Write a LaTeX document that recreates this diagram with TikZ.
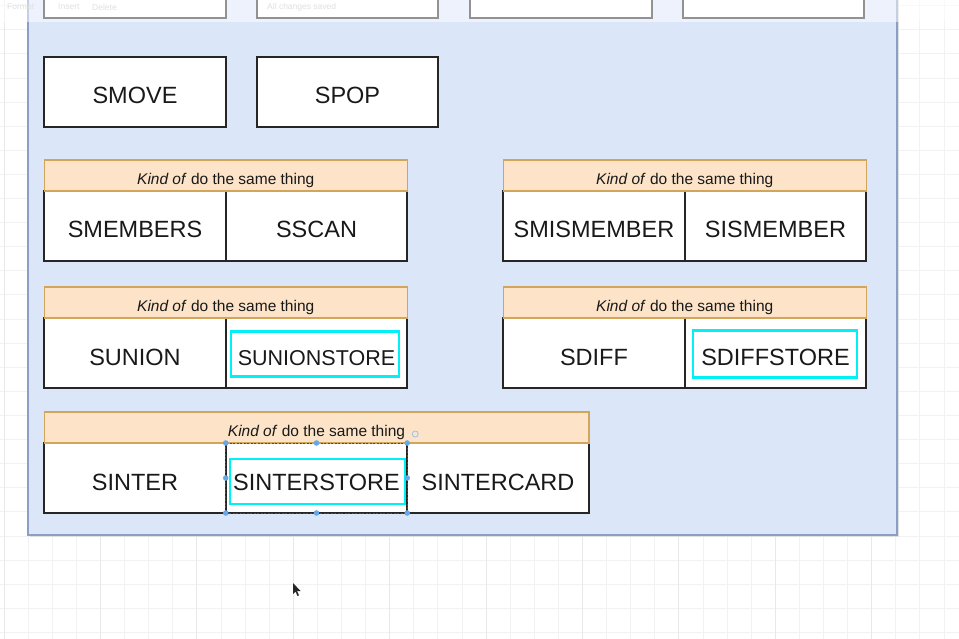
\documentclass[tikz,border=0pt]{standalone}
\usepackage{fontspec}
\setmainfont{Liberation Sans}
\usetikzlibrary{positioning}
\definecolor{panelfill}{HTML}{DBE6F9}
\definecolor{panelline}{HTML}{8A9FC6}
\definecolor{hdrfill}{HTML}{FDE4C8}
\definecolor{hdrline}{HTML}{D3A55B}
\definecolor{editline}{HTML}{00F0F5}
\definecolor{handleblue}{HTML}{64A8E8}
\tikzstyle{gridline}=[
	draw=black!5,
	line width=0.8pt
]
\tikzstyle{gridmajor}=[
	draw=black!9,
	line width=0.8pt
]
\tikzstyle{panel}=[
	draw=panelline,
	fill=panelfill,
	line width=2pt
]
\tikzstyle{cmd}=[
	draw=black!85,
	fill=white,
	line width=1.8pt,
	minimum width=181.5pt,
	minimum height=70pt,
	inner sep=0pt,
	outer sep=0pt,
	text=black!90,
	font=\fontsize{23.5}{24}\selectfont,
	text height=24pt,
	text depth=0pt
]
\tikzstyle{hdr}=[
	draw=hdrline,
	fill=hdrfill,
	line width=1.5pt,
	minimum height=31pt,
	inner sep=0pt,
	outer sep=0pt,
	anchor=south west,
	text=black!90,
	font=\fontsize{15.5}{16}\selectfont,
	text height=17.7pt,
	text depth=0pt
]
\tikzstyle{editbox}=[
	draw=editline,
	line width=2.4pt,
	inner sep=0pt,
	minimum height=45pt
]
\tikzstyle{selbox}=[
	draw=black!70,
	line width=0.9pt,
	dash pattern=on 2pt off 1.5pt
]
\tikzstyle{handle}=[
	fill=handleblue
]
\tikzstyle{tbtext}=[
	text=black!12,
	font=\fontsize{8.5}{9}\selectfont,
	inner sep=0pt
]
\newcommand{\kindof}{\textit{Kind of} do the same thing}

\begin{document}
\begin{tikzpicture}[x=1pt, y=-1pt]
\clip (0,0) rectangle (959,639);
\fill[white] (0,0) rectangle (959,639);

% canvas grid
\foreach \k in {0,...,39} {
    \draw[gridline] ({4+24.1*\k},0) -- ({4+24.1*\k},639);
}
\foreach \k in {0,...,26} {
    \draw[gridline] (0,{5.7+24.1*\k}) -- (959,{5.7+24.1*\k});
}
\foreach \k in {0,4,...,36} {
    \draw[gridmajor] ({4+24.1*\k},0) -- ({4+24.1*\k},639);
}

% container
\fill[black!12] (30,-10) rectangle (899,537);
\draw[panel] (28,-10) rectangle (897,535);

% row cut off at the top
\node[cmd] (top1) at (135,-17) {};
\node[cmd, right=31pt of top1] (top2) {};
\node[cmd, right=32pt of top2] (top3) {};
\node[cmd, right=31pt of top3] (top4) {};

% faded toolbar
\fill[white, opacity=0.5] (0,0) rectangle (959,22);
\node[tbtext, anchor=west] (tbformat) at (7,7) {Format};
\node[tbtext, anchor=west] (tbinsert) at (58,7) {Insert};
\node[tbtext, anchor=west] (tbdelete) at (92,7) {Delete};
\node[tbtext, anchor=west] (tbsaved) at (267,7) {All changes saved};

\node[cmd] (smove) at (135,92) {SMOVE};
\node[cmd, right=31pt of smove] (spop) {SPOP};

% groups
\node[cmd, below=64pt of smove] (smembers) {SMEMBERS};
\node[cmd, right=0pt of smembers] (sscan) {SSCAN};
\node[hdr, minimum width=363pt] (hdra) at (smembers.north west) {\kindof};

\node[cmd, right=96pt of sscan] (smismember) {SMISMEMBER};
\node[cmd, right=0pt of smismember] (sismember) {SISMEMBER};
\node[hdr, minimum width=363pt] (hdrb) at (smismember.north west) {\kindof};

\node[cmd, below=57pt of smembers] (sunion) {SUNION};
\node[cmd, right=0pt of sunion, font=\fontsize{21.5}{22}\selectfont] (sunionstore) {SUNIONSTORE};
\node[hdr, minimum width=363pt] (hdrc) at (sunion.north west) {\kindof};
\node[editbox, minimum width=168pt] (edc) at ([xshift=-1.5pt,yshift=-1pt]sunionstore.center) {};

\node[cmd, right=96pt of sunionstore] (sdiff) {SDIFF};
\node[cmd, right=0pt of sdiff] (sdiffstore) {SDIFFSTORE};
\node[hdr, minimum width=363pt] (hdrd) at (sdiff.north west) {\kindof};
\node[editbox, minimum width=164pt, minimum height=47pt] (edd) at ([xshift=-0.5pt,yshift=-1pt]sdiffstore.center) {};

\node[cmd, below=55pt of sunion] (sinter) {SINTER};
\node[cmd, right=0pt of sinter] (sinterstore) {SINTERSTORE};
\node[cmd, right=0pt of sinterstore] (sintercard) {SINTERCARD};
\node[hdr, minimum width=544.5pt] (hdre) at (sinter.north west) {\kindof};
\node[editbox, minimum width=175pt] (ede) at ([xshift=1pt,yshift=-3.5pt]sinterstore.center) {};

% selection of SINTERSTORE
\draw[selbox] (sinterstore.north west) rectangle (sinterstore.south east);
\foreach \a in {north west,north,north east,west,east,south west,south,south east} {
    \fill[handle] (sinterstore.\a) circle (2.8pt);
}
\draw[handleblue!70, line width=0.8pt] ([xshift=8pt,yshift=9pt]sinterstore.north east) circle (3pt);

% mouse pointer
\fill[black!85] (293,583) -- (293,594) -- (295.5,591.5) -- (297.5,596)
    -- (299,595.3) -- (297,591) -- (300.5,591) -- cycle;
\end{tikzpicture}
\end{document}
